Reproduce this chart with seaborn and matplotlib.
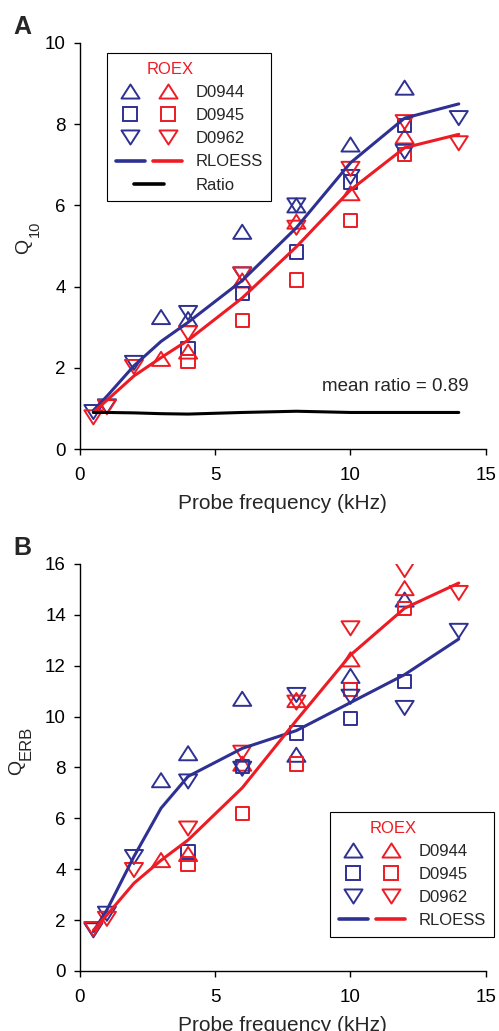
import matplotlib
matplotlib.use("Agg")
import matplotlib.pyplot as plt
from matplotlib.lines import Line2D
from matplotlib.path import Path
from matplotlib.legend_handler import HandlerTuple, HandlerLine2D
import numpy as np
import seaborn as sns

# ---------------- data ----------------
freq_d0944 = [3, 4, 6, 8, 10, 12]
freq_d0945 = [4, 6, 8, 10, 12]
freq_d0962 = [0.5, 1, 2, 4, 6, 8, 10, 12, 14]
freq_fit = [0.5, 1, 2, 3, 4, 6, 8, 10, 12, 14]

# Panel A: Q10 (blue = comparison estimate, red = ROEX)
q10_blue_d0944 = [3.25, 3.2, 5.35, 6.0, 7.5, 8.9]
q10_roex_d0944 = [2.22, 2.4, 4.15, 5.6, 6.3, 7.7]
q10_blue_d0945 = [2.48, 3.83, 4.85, 6.58, 7.97]
q10_roex_d0945 = [2.15, 3.16, 4.16, 5.63, 7.25]
q10_blue_d0962 = [0.91, 1.05, 2.12, 3.35, 4.3, 6.0, 6.7, 7.32, 8.15]
q10_roex_d0962 = [0.78, 1.03, 2.02, 2.85, 4.3, 5.45, 6.9, 8.05, 7.53]
q10_blue_fit = [0.95, 1.3, 2.05, 2.65, 3.12, 4.15, 5.45, 7.05, 8.15, 8.5]
q10_roex_fit = [0.9, 1.2, 1.8, 2.25, 2.68, 3.72, 4.98, 6.38, 7.42, 7.75]
q10_ratio = [0.9, 0.9, 0.89, 0.87, 0.86, 0.9, 0.93, 0.9, 0.9, 0.9]
mean_ratio = 0.89

# Panel B: QERB
qerb_blue_d0944 = [7.5, 8.56, 10.7, 8.5, 11.6, 14.6]
qerb_roex_d0944 = [4.36, 4.6, 8.15, 10.65, 12.25, 15.05]
qerb_blue_d0945 = [4.68, 8.05, 9.36, 9.93, 11.37]
qerb_roex_d0945 = [4.2, 6.2, 8.14, 11.07, 14.25]
qerb_blue_d0962 = [1.6, 2.25, 4.48, 7.45, 7.95, 10.85, 10.78, 10.34, 13.37]
qerb_roex_d0962 = [1.65, 2.05, 3.97, 5.6, 8.58, 10.55, 13.47, 15.76, 14.86]
qerb_blue_fit = [1.55, 2.4, 4.5, 6.4, 7.65, 8.75, 9.45, 10.55, 11.65, 13.05]
qerb_roex_fit = [1.6, 2.2, 3.45, 4.35, 5.15, 7.2, 9.85, 12.42, 14.26, 15.25]

animals = ["D0944", "D0945", "D0962"]
x_ticks = [0, 5, 10, 15]

# ---------------- style ----------------
BLUE = "#2E3192"
RED = "#ED1C24"

sns.set_style("ticks")
plt.rcParams["font.family"] = ["Liberation Sans", "DejaVu Sans"]
plt.rcParams["axes.edgecolor"] = "black"
plt.rcParams["axes.linewidth"] = 1.0

TRI_H = 0.78
MARK_UP = Path([(-1, -TRI_H), (1, -TRI_H), (0, TRI_H), (-1, -TRI_H)], closed=True)
MARK_DN = Path([(-1, TRI_H), (1, TRI_H), (0, -TRI_H), (-1, TRI_H)], closed=True)
MARK_SQ = "s"
MS_TRI = 13
MS_SQ = 9.6
MEW = 1.4
markers = [(MARK_UP, MS_TRI), (MARK_SQ, MS_SQ), (MARK_DN, MS_TRI)]


def draw_points(ax, x, y, marker, ms, color):
    sns.scatterplot(x=x, y=y, ax=ax, marker=marker, s=ms ** 2, color=color,
                    facecolor="none", edgecolor=color, linewidth=MEW,
                    legend=False, zorder=3)


def draw_fit(ax, x, y, color):
    sns.lineplot(x=x, y=y, ax=ax, color=color, lw=2.2, zorder=4,
                 estimator=None, sort=False)


class ShortLine(HandlerLine2D):
    """Legend line drawn shorter and centred in the handle box."""
    def get_xdata(self, legend, xdescent, ydescent, width, height, fontsize):
        _, xm = super().get_xdata(legend, xdescent, ydescent, width, height, fontsize)
        c = -xdescent + width / 2
        half = width * 0.23
        return np.array([c - half, c + half]), xm


def marker_handle(marker, ms, color):
    return Line2D([], [], ls="none", marker=marker, ms=ms, mfc="none",
                  mec=color, mew=MEW)


def add_legend(ax, anchor, with_ratio):
    handles = [(marker_handle(m, s, BLUE), marker_handle(m, s, RED)) for m, s in markers]
    labels = list(animals)
    handles.append((Line2D([], [], color=BLUE, lw=2.6), Line2D([], [], color=RED, lw=2.6)))
    labels.append("RLOESS")
    hmap = {tuple: HandlerTuple(ndivide=None, pad=0.48)}
    if with_ratio:
        ratio_h = Line2D([], [], color="black", lw=2.6)
        handles.append(ratio_h)
        labels.append("Ratio")
        hmap[ratio_h] = ShortLine()
    leg = ax.legend(handles, labels, loc="upper left", bbox_to_anchor=anchor,
                    borderaxespad=0, handler_map=hmap, handlelength=4.0,
                    handletextpad=0.78, borderpad=0.52, labelspacing=0.49,
                    fontsize=12, title="ROEX", title_fontsize=12,
                    frameon=True, fancybox=False, edgecolor="black",
                    framealpha=1)
    leg.get_title().set_color(RED)
    leg.get_title().set_position((-19, 0))
    leg.get_frame().set_linewidth(0.8)
    leg.set_zorder(10)
    return leg


def set_q_label(ax, sub, label_x, sub_size, sub_offset):
    """Y label 'Q' with a subscript placed just past its baseline."""
    ax.set_ylabel("Q", fontsize=14)
    ax.yaxis.set_label_coords(label_x, 0.5)
    ax.annotate(sub, xy=(1, 1), xycoords=ax.yaxis.label, xytext=sub_offset,
                textcoords="offset points", rotation=90, ha="left",
                va="bottom", fontsize=sub_size, annotation_clip=False)


def style_axes(ax, ymax, ystep):
    ax.set_xlim(0, 15)
    ax.set_ylim(0, ymax)
    ax.set_xticks(x_ticks)
    ax.set_yticks(np.arange(0, ymax + 0.1, ystep))
    ax.tick_params(axis="both", direction="out", length=4, width=1.0,
                   labelsize=13.5, colors="black")
    ax.tick_params(axis="x", pad=9)
    ax.tick_params(axis="y", pad=6)
    ax.set_xlabel("Probe frequency (kHz)", fontsize=15, labelpad=7)
    sns.despine(ax=ax)


fig = plt.figure(figsize=(4.99, 10.31), dpi=100)
axA = fig.add_axes([0.160, 0.5645, 0.8136, 0.3938])
axB = fig.add_axes([0.160, 0.0582, 0.8136, 0.3948])

# ---- Panel A ----
seriesA = [
    (freq_d0944, q10_blue_d0944, q10_roex_d0944),
    (freq_d0945, q10_blue_d0945, q10_roex_d0945),
    (freq_d0962, q10_blue_d0962, q10_roex_d0962),
]
for (fx, yb, yr), (m, s) in zip(seriesA, markers):
    draw_points(axA, fx, yb, m, s, BLUE)
    draw_points(axA, fx, yr, m, s, RED)
draw_fit(axA, freq_fit, q10_blue_fit, BLUE)
draw_fit(axA, freq_fit, q10_roex_fit, RED)
draw_fit(axA, freq_fit, q10_ratio, "black")
axA.text(11.64, 1.55, f"mean ratio = {mean_ratio:.2f}", fontsize=13.5,
         ha="center", va="center")
style_axes(axA, 10, 2)
set_q_label(axA, "10", -0.118, 10.5, (-2.9, 0.7))
add_legend(axA, (0.0665, 0.975), True)

# ---- Panel B ----
seriesB = [
    (freq_d0944, qerb_blue_d0944, qerb_roex_d0944),
    (freq_d0945, qerb_blue_d0945, qerb_roex_d0945),
    (freq_d0962, qerb_blue_d0962, qerb_roex_d0962),
]
for (fx, yb, yr), (m, s) in zip(seriesB, markers):
    draw_points(axB, fx, yb, m, s, BLUE)
    draw_points(axB, fx, yr, m, s, RED)
draw_fit(axB, freq_fit, qerb_blue_fit, BLUE)
draw_fit(axB, freq_fit, qerb_roex_fit, RED)
style_axes(axB, 16, 2)
set_q_label(axB, "ERB", -0.135, 12, (-4.3, 0))
add_legend(axB, (0.616, 0.391), False)

fig.text(0.026, 0.967, "A", fontsize=18, fontweight="bold", va="baseline")
fig.text(0.026, 0.4617, "B", fontsize=18, fontweight="bold", va="baseline")

fig.savefig("out.png", dpi=100)
